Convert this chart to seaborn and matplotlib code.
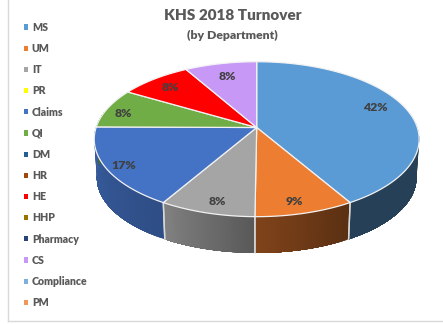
import numpy as np
import matplotlib
matplotlib.use("Agg")
import matplotlib.pyplot as plt
from matplotlib.patches import Patch
import seaborn as sns

# Turnover share per department; departments with no departures stay in the legend.
departments = ["MS", "UM", "IT", "PR", "Claims", "QI", "DM", "HR", "HE", "HHP",
               "Pharmacy", "CS", "Compliance", "PM"]
turnover = [41.6, 8.6, 8.3, 0, 16.7, 8.3, 0, 0, 8.3, 0, 0, 8.3, 0, 0]
slice_colors = ["#5B9BD5", "#ED7D31", "#A5A5A5", "#FFFF00", "#4472C4", "#70AD47", "#255E91",
                "#9E480E", "#FF0000", "#997300", "#264478", "#C898F7", "#7CAFDD", "#F1975A"]
# Shading of the outer wall: brightness at the left and right end of each slice.
wall_shade = {"MS": (0.41, 0.41), "UM": (0.54, 0.38), "IT": (0.78, 0.54),
              "Claims": (0.82, 0.68), "QI": (0.6, 0.6), "HE": (0.6, 0.6), "CS": (0.6, 0.6)}
# Percent labels: distance from the hub along the slice's middle, then a small pixel shift.
label_reach = {"MS": 0.80, "UM": 0.88, "IT": 0.88, "Claims": 0.88, "QI": 0.88, "HE": 0.80, "CS": 0.78}
label_shift = {"MS": (-2, -5), "UM": (-4, 0), "IT": (4, 0), "Claims": (-1, 3),
               "QI": (-2, 3), "HE": (-3, 0), "CS": (0, 0)}

sns.set_theme(style="white")
plt.rcParams["font.family"] = ["Lato", "DejaVu Sans"]
TEXT = "#595959"

fig = plt.figure(figsize=(4.43, 3.24), dpi=100)
ax = fig.add_axes([7.5 / 443, 3.5 / 324, 435.5 / 443, 320.5 / 324])
ax.set_xlim(7.5, 443)
ax.set_ylim(320.5, 0)
ax.set_xticks([])
ax.set_yticks([])
sns.despine(ax=ax, top=True, right=True)
for side in ("left", "bottom"):
    ax.spines[side].set_color("#D9D9D9")
    ax.spines[side].set_linewidth(1.0)

TILT = 0.151


def project(theta, r=1.0, cx=256.7, cy=127.5, ax_x=160.6, ax_y=75.7):
    """Perspective view of a point on the disc; theta runs clockwise from 12 o'clock."""
    across = r * np.sin(theta)
    back = r * np.cos(theta)
    w = 1 + TILT * back
    return cx + ax_x * across / w, cy - ax_y * back / w


def project_floor(theta):
    return project(theta, cy=166.5, ax_x=158.0, ax_y=73.4)


values = np.array(turnover, dtype=float)
edges = np.concatenate([[0], np.cumsum(values) / values.sum() * 2 * np.pi])

# Outer wall, only the part facing the viewer. Each strip reaches to the end of the
# slice and the next one paints over it, which leaves no seams between strips.
for name, colour, a0, a1 in zip(departments, slice_colors, edges[:-1], edges[1:]):
    if a1 <= a0:
        continue
    lo, hi = max(a0, np.pi / 2 - 0.2), min(a1, 3 * np.pi / 2 + 0.2)
    if hi <= lo:
        continue
    ts = np.linspace(lo, hi, 40)
    base = np.array(matplotlib.colors.to_rgb(colour))
    left, right = wall_shade[name]
    for i in range(len(ts) - 1):
        rest = ts[i:]
        xt, yt = project(rest)
        xf, yf = project_floor(rest)
        f = right + (left - right) * i / (len(ts) - 2)
        ax.fill(np.r_[xt, xf[::-1]], np.r_[yt, yf[::-1]], color=tuple(base * f), lw=0, zorder=2)
    for edge in (a0, a1):
        if np.pi / 2 < edge < 3 * np.pi / 2:
            xa, ya = project(edge)
            xb, yb = project_floor(edge)
            ax.plot([xa, xb], [ya, yb], color="#D8D8D8", lw=1.0, zorder=3)

# Top face of the pie.
for name, colour, a0, a1 in zip(departments, slice_colors, edges[:-1], edges[1:]):
    if a1 <= a0:
        continue
    ts = np.linspace(a0, a1, 80)
    xs, ys = project(ts)
    cx0, cy0 = project(0.0, r=0.0)
    ax.fill(np.r_[cx0, xs], np.r_[cy0, ys], facecolor=colour, edgecolor="#F2F2F2",
            lw=0.9, joinstyle="round", zorder=4)
    mid = (a0 + a1) / 2
    lx, ly = project(mid, r=label_reach[name])
    dx, dy = label_shift[name]
    ax.text(lx + dx, ly + dy, f"{values[departments.index(name)]:.0f}%", ha="center", va="center",
            fontsize=8.9, fontweight="heavy", color="#404040", zorder=5)

# Title and subtitle
ax.text(232.5, 16, "KHS 2018 Turnover", ha="center", va="center",
        fontsize=11, fontweight="heavy", color=TEXT)
ax.text(232.5, 35, "(by Department)", ha="center", va="center",
        fontsize=8.8, fontweight="heavy", color=TEXT)

handles = [Patch(facecolor=c, edgecolor="none", label=d) for d, c in zip(departments, slice_colors)]
legend = ax.legend(handles=handles, loc="upper left", bbox_to_anchor=(24, 21.8),
                   bbox_transform=ax.transData, frameon=False, fontsize=7.6,
                   handlelength=0.38, handleheight=0.38, handletextpad=0.36,
                   labelspacing=0.965, borderpad=0, borderaxespad=0)
for t in legend.get_texts():
    t.set_color(TEXT)
    t.set_fontweight("heavy")

fig.savefig("out.png", dpi=100)
